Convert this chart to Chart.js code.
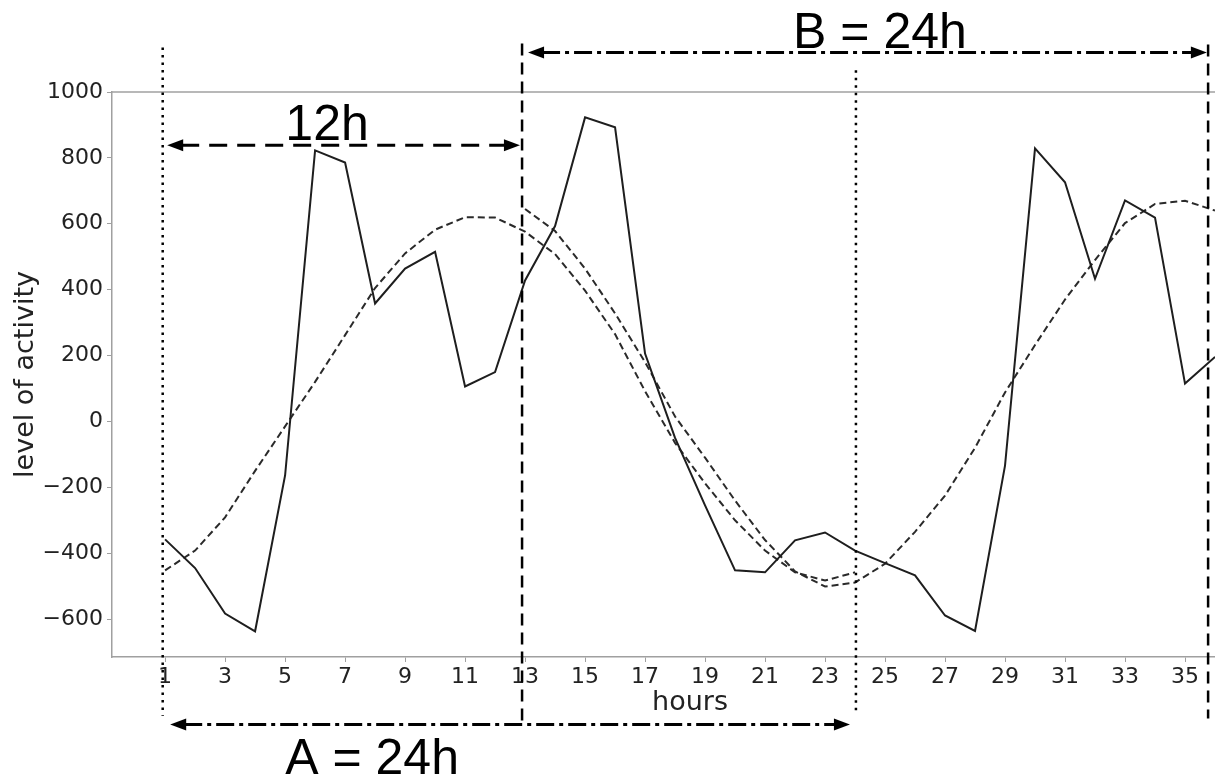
<!DOCTYPE html>
<html>
<head>
<meta charset="utf-8">
<script src="https://cdn.jsdelivr.net/npm/chart.js@4/dist/chart.umd.min.js"></script>
<style>
  html, body { margin: 0; padding: 0; background: #fff; }
</style>
</head>
<body>
<canvas id="canvas" width="1215" height="781"></canvas>
<script>
// hourly activity
const hours = [1, 2, 3, 4, 5, 6, 7, 8, 9, 10, 11, 12, 13, 14, 15, 16, 17, 18,
    19, 20, 21, 22, 23, 24, 25, 26, 27, 28, 29, 30, 31, 32, 33, 34, 35, 36];
const activity = [-358, -445, -583, -637, -164, 823, 786, 358, 464, 515, 106, 150,
    428, 593, 923, 893, 206, -50, -255, -452, -458, -361, -337, -392,
    -430, -467, -589, -636, -134, 829, 726, 433, 671, 619, 115, 196];

// fitted curve over window A (hours 1..24)
const fitAHours = hours.slice(0, 24);
const fitA = [-452, -392, -291, -150, -15, 120, 262, 405, 510, 582, 620, 619,
    576, 508, 397, 265, 92, -65, -188, -300, -392, -458, -483, -458];

// fitted curve over window B (hours 13..36)
const fitBHours = hours.slice(12);
const fitB = [645, 578, 464, 328, 180, 15, -110, -240, -360, -455, -501, -489,
    -432, -335, -225, -80, 88, 232, 370, 490, 602, 660, 670, 640];

const xTicks = [1, 3, 5, 7, 9, 11, 13, 15, 17, 19, 21, 23, 25, 27, 29, 31, 33, 35];
const yTicks = [-600, -400, -200, 0, 200, 400, 600, 800, 1000];

// annotations, in data units (hours / activity)
const markers = [
    {x: 0.92, from: 1135, to: -893, style: 'dotted'},
    {x: 12.9, from: 1147, to: -929, style: 'dashed'},
    {x: 24.03, from: 1066, to: -887, style: 'dotted'},
    {x: 35.77, from: 1144, to: -902, style: 'dashed'},
];
const spans = [
    {from: 1.07, to: 12.83, y: 838, style: 'longdash'},
    {from: 13.1, to: 35.73, y: 1120, style: 'dashdot'},
    {from: 1.17, to: 23.83, y: -920, style: 'dashdot'},
];
const notes = [
    {text: '12h', x: 6.4, y: 853},
    {text: 'B = 24h', x: 24.83, y: 1135},
    {text: 'A = 24h', x: 7.9, y: -1069},
];
// x-axis title sits at the middle of the full (uncropped) axis
const xTitle = {text: 'hours', x: 18.5};

const dashes = {
    dotted: [2.5, 5],
    dashed: [12, 7],
    longdash: [18, 10],
    dashdot: [18, 5, 4, 5],
};
const axisColor = '#a0a0a0';
const tickFont = {family: 'DejaVu Sans', size: 22};
const titleFont = {family: 'DejaVu Sans', size: 27};

function arrowHead(ctx, tipX, y, dir) {
    ctx.beginPath();
    ctx.moveTo(tipX, y);
    ctx.lineTo(tipX + dir * 16, y - 6);
    ctx.lineTo(tipX + dir * 16, y + 6);
    ctx.closePath();
    ctx.fill();
}

const spanPlugin = {
    id: 'spans',
    afterDraw(chart) {
        const {ctx, chartArea, scales: {x, y}} = chart;
        ctx.save();

        // top spine
        ctx.strokeStyle = axisColor;
        ctx.lineWidth = 1.5;
        ctx.beginPath();
        ctx.moveTo(chartArea.left, chartArea.top);
        ctx.lineTo(chartArea.right, chartArea.top);
        ctx.stroke();

        // x title
        ctx.fillStyle = '#222';
        ctx.font = titleFont.size + 'px "' + titleFont.family + '"';
        ctx.textAlign = 'center';
        ctx.textBaseline = 'alphabetic';
        ctx.fillText(xTitle.text, x.getPixelForValue(xTitle.x), chartArea.bottom + 53);

        ctx.strokeStyle = '#000';
        ctx.fillStyle = '#000';

        markers.forEach(m => {
            const px = x.getPixelForValue(m.x);
            ctx.lineWidth = 2.5;
            ctx.setLineDash(dashes[m.style]);
            ctx.beginPath();
            ctx.moveTo(px, y.getPixelForValue(m.from));
            ctx.lineTo(px, y.getPixelForValue(m.to));
            ctx.stroke();
        });

        spans.forEach(s => {
            const x1 = x.getPixelForValue(s.from);
            const x2 = x.getPixelForValue(s.to);
            const py = y.getPixelForValue(s.y);
            ctx.lineWidth = 3;
            ctx.setLineDash(dashes[s.style]);
            ctx.beginPath();
            ctx.moveTo(x1 + 14, py);
            ctx.lineTo(x2 - 14, py);
            ctx.stroke();
            ctx.setLineDash([]);
            arrowHead(ctx, x1, py, 1);
            arrowHead(ctx, x2, py, -1);
        });

        ctx.font = '50px "Liberation Sans", Arial, sans-serif';
        notes.forEach(n => {
            ctx.fillText(n.text, x.getPixelForValue(n.x), y.getPixelForValue(n.y));
        });

        ctx.restore();
    }
};

function toPoints(xs, ys) {
    return xs.map((h, i) => ({x: h, y: ys[i]}));
}

const ctx = document.getElementById('canvas');
new Chart(ctx, {
    type: 'line',
    data: {
        datasets: [
            {
                label: 'activity',
                data: toPoints(hours, activity),
                borderColor: '#1e1e1e',
                borderWidth: 2,
                pointRadius: 0,
                tension: 0,
            },
            {
                label: 'fit A',
                data: toPoints(fitAHours, fitA),
                borderColor: '#2a2a2a',
                borderWidth: 2,
                borderDash: [7, 4],
                pointRadius: 0,
                tension: 0,
            },
            {
                label: 'fit B',
                data: toPoints(fitBHours, fitB),
                borderColor: '#2a2a2a',
                borderWidth: 2,
                borderDash: [7, 4],
                pointRadius: 0,
                tension: 0,
            },
        ],
    },
    options: {
        responsive: false,
        animation: false,
        layout: {padding: {top: 92, right: 0, bottom: 0, left: 0}},
        plugins: {
            legend: {display: false},
            tooltip: {enabled: false},
        },
        scales: {
            x: {
                type: 'linear',
                min: -0.77,
                max: 36.0,
                afterBuildTicks: scale => { scale.ticks = xTicks.map(v => ({value: v})); },
                afterFit: scale => { scale.height = 124; },
                grid: {drawOnChartArea: false, drawTicks: true, tickLength: 5, color: axisColor},
                border: {color: axisColor, width: 1.5},
                ticks: {
                    font: tickFont,
                    color: '#222',
                    padding: 2,
                    maxRotation: 0,
                    autoSkip: false,
                    callback: v => String(v),
                },
            },
            y: {
                min: -715,
                max: 1000,
                afterBuildTicks: scale => { scale.ticks = yTicks.map(v => ({value: v})); },
                afterFit: scale => { scale.width = 112; },
                grid: {drawOnChartArea: false, drawTicks: true, tickLength: 5, color: axisColor},
                border: {color: axisColor, width: 1.5},
                ticks: {
                    font: tickFont,
                    color: '#222',
                    padding: 4,
                    callback: v => v < 0 ? '\u2212' + Math.abs(v) : String(v),
                },
                title: {
                    display: true,
                    text: 'level of activity',
                    font: titleFont,
                    color: '#222',
                    padding: {top: 10, bottom: 0},
                },
            },
        },
    },
    plugins: [spanPlugin],
});
</script>
</body>
</html>
